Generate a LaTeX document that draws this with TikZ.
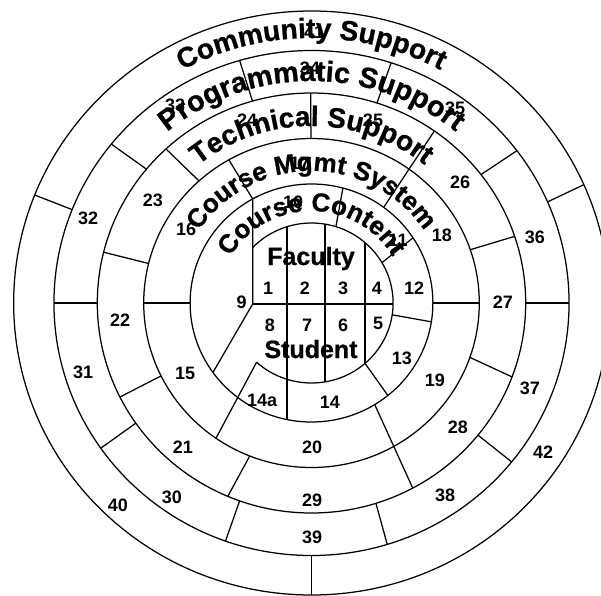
\documentclass[tikz,border=0pt]{standalone}
\usepackage{fontspec}
\setmainfont{Liberation Sans}
\newfontfamily\titlefam[FakeBold=0.8,BoldFeatures={FakeBold=0.8}]{Liberation Sans}
\usetikzlibrary{decorations.text}
\newcommand\ringfontA{\titlefam\fontsize{28}{30}\selectfont\bfseries}
\newcommand\ringfontP{\titlefam\fontsize{28.8}{30}\selectfont\bfseries}
\newcommand\ringfontB{\titlefam\fontsize{26}{28}\selectfont\bfseries}
\begin{document}
\begin{tikzpicture}[x=1.02pt,y=1pt,line width=1.25pt,
  num/.style={font=\fontsize{18}{18}\selectfont\bfseries,inner sep=0pt},
  lab/.style={font=\titlefam\fontsize{25}{25}\selectfont\bfseries,inner sep=0pt,anchor=base}]
\useasboundingbox (-305.39,-292) rectangle (283.82,303);
\clip (-305.39,-292) rectangle (283.82,303);
% circles
\foreach \r in {119,164.5,210,252.5,292} \draw (0,0) circle[radius=\r];
% inner disc arc
\draw (136.1:80) arc[start angle=136.1,end angle=-132.3,radius=80];
% inner disc chords
\coordinate (q) at (-57.69,-1);
\draw (119:119) -- (q) -- (215.7:119);
\draw (q) -- (79.99,-1);
\draw (-24,76.3) -- (-24,-116.55);
\draw (13.24,78.9) -- (13.24,-78.9);
\draw (52.45,60.4) -- (52.45,-60.4);
\draw (227.7:80) -- (235.3:164.5);
% radial dividers
\foreach \a/\r/\b/\s in {
  72.6/80/75/119, 30.3/80/33.2/119, -8.5/80/-9.1/119, -49/80/-51/119,
  180/119/180/164.5, 119/119/119.5/164.5, 53.5/119/55/210, 0/119/0/164.5, -58.6/119/-61.8/210,
  18.9/164.5/18.5/210, -19.3/164.5/-20.6/210, -111.6/164.5/-113/210, 206.3/164.5/206.6/210,
  166.1/164.5/166/210, 132.1/164.5/132.8/210, 90.2/164.5/90.2/210,
  180/210/180/252.5, 214.9/210/215.1/252.5, 250.4/210/250.5/252.5, -72.5/210/-72.9/252.5,
  -39/210/-39/252.5, 0/210/0/252.5, 37.7/210/37.1/252.5, 72.2/210/72/252.5,
  106/210/106.2/252.5, 140.4/210/141/252.5,
  158.3/252.5/158.3/292, 23.6/252.5/23.9/292, -90/252.5/-90/292}
  \draw (\a:\r) -- (\b:\s);
% numbers
\node[num] (c1) at (-42.6,15) {1};
\node[num] (c2) at (-6.4,15) {2};
\node[num] (c3) at (30.9,15) {3};
\node[num] (c4) at (64.2,15) {4};
\node[num] (c5) at (65.2,-20) {5};
\node[num] (c6) at (30.9,-22) {6};
\node[num] (c7) at (-4.4,-22) {7};
\node[num] (c8) at (-40.7,-22) {8};
\node[num] (c9) at (-68.4,1) {9};
\node[num] (c10) at (-18,101) {10};
\node[num] (c11) at (84.8,63) {11};
\node[num] (c12) at (100.5,15) {12};
\node[num] (c13) at (88.7,-55) {13};
\node[num] (c14) at (18.1,-99) {14};
\node[num] (c14a) at (-48.5,-97) {14a};
\node[num] (c15) at (-124,-70) {15};
\node[num] (c16) at (-123,74) {16};
\node[num] (c17) at (-11.3,140) {17};
\node[num] (c18) at (127.9,68) {18};
\node[num] (c19) at (121,-77) {19};
\node[num] (c20) at (0.5,-144) {20};
\node[num] (c21) at (-126,-144) {21};
\node[num] (c22) at (-187.7,-17) {22};
\node[num] (c23) at (-155.4,103) {23};
\node[num] (c24) at (-63.2,183) {24};
\node[num] (c25) at (60.3,183) {25};
\node[num] (c26) at (145.6,121) {26};
\node[num] (c27) at (187.7,1) {27};
\node[num] (c28) at (143.6,-124) {28};
\node[num] (c29) at (0.5,-197) {29};
\node[num] (c30) at (-136.8,-194) {30};
\node[num] (c31) at (-224,-69) {31};
\node[num] (c32) at (-219,85) {32};
\node[num] (c33) at (-133.8,198) {33};
\node[num] (c34) at (-1.5,235) {34};
\node[num] (c35) at (140.7,195) {35};
\node[num] (c36) at (219,66) {36};
\node[num] (c37) at (214.2,-85) {37};
\node[num] (c38) at (130.9,-192) {38};
\node[num] (c39) at (0.5,-234) {39};
\node[num] (c40) at (-189.7,-202) {40};
\node[num] (c41) at (2.5,271) {41};
\node[num] (c42) at (227,-149) {42};
\node[lab] (fac) at (-0.5,38) {Faculty};
\node[lab] (stu) at (-0.5,-55) {Student};
% curved ring titles
\path[decorate,decoration={text along path,text align=center,text={|\ringfontA|Community Support}}]
  (180:265) arc[start angle=180,end angle=0,radius=265];
\path[decorate,decoration={text along path,text align=center,text={|\ringfontP|Programmatic Support}}]
  (180:222) arc[start angle=180,end angle=0,radius=222];
\path[decorate,decoration={text along path,text align=center,text={|\ringfontA|Technical Support}}]
  (180:177) arc[start angle=180,end angle=0,radius=177];
\path[decorate,decoration={text along path,text align=center,text={|\ringfontB|Course Mgmt System}}]
  (180:132) arc[start angle=180,end angle=0,radius=132];
\path[decorate,decoration={text along path,text align=center,text={|\ringfontB|Course Content}}]
  (180:92) arc[start angle=180,end angle=0,radius=92];
\end{tikzpicture}
\end{document}
